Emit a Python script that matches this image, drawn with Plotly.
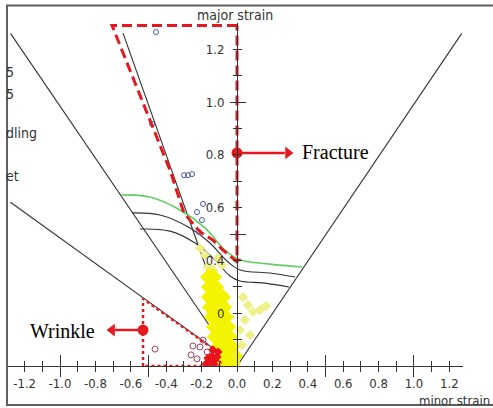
import plotly.graph_objects as go

# ---------------- tick labels ----------------
x_tick_vals = [-1.2, -1.1, -1.0, -0.9, -0.8, -0.7, -0.6, -0.5, -0.4, -0.3, -0.2, -0.1, 0.0,
               0.1, 0.2, 0.3, 0.4, 0.5, 0.6, 0.7, 0.8, 0.9, 1.0, 1.1, 1.2]
x_tick_text = ["-1.2", "", "-1.0", "", "-0.8", "", "-0.6", "", "-0.4", "", "-0.2", "", "0.0",
               "", "0.2", "", "0.4", "", "0.6", "", "0.8", "", "1.0", "", "1.2"]
y_tick_vals = [0.1, 0.2, 0.3, 0.4, 0.5, 0.6, 0.7, 0.8, 0.9, 1.0, 1.1, 1.2]
y_tick_text = ["", "0", "", "0.4", "", "0.6", "", "0.8", "", "1.0", "", "1.2"]
x_long_ticks = [-1.0, -0.5, 0.5, 1.0]
y_long_ticks = [0.5, 1.0]

# ---------------- strain path lines (minor, major) ----------------
shear_minor = [-1.28, -0.09]
shear_major = [1.26, 0.088]
compression_minor = [-1.28, -0.13]
compression_major = [0.62, 0.065]
uniaxial_minor = [-0.644, -0.12]
uniaxial_major = [1.261, 0.27]
biaxial_minor = [0.0, 1.27]
biaxial_major = [0.0, 1.26]

# ---------------- forming limit curves ----------------
flc_green_minor = [-0.650, -0.492, -0.322, -0.181, -0.068, 0.017, 0.186, 0.367]
flc_green_major = [0.648, 0.640, 0.591, 0.523, 0.439, 0.402, 0.386, 0.375]
flc_mid_minor = [-0.593, -0.435, -0.266, -0.153, -0.051, 0.017, 0.186, 0.328]
flc_mid_major = [0.580, 0.572, 0.523, 0.466, 0.394, 0.364, 0.352, 0.337]
flc_low_minor = [-0.548, -0.379, -0.237, -0.124, -0.040, 0.017, 0.158, 0.294]
flc_low_major = [0.519, 0.511, 0.466, 0.402, 0.341, 0.322, 0.314, 0.299]

# ---------------- measured strains ----------------
yellow_minor = [-0.158, -0.136,
                -0.153, -0.124,
                -0.153, -0.119, -0.085,
                -0.147, -0.113, -0.079,
                -0.136, -0.102, -0.068,
                -0.124, -0.090, -0.056,
                -0.119, -0.085, -0.045,
                -0.102, -0.068, -0.034,
                -0.085, -0.051, -0.017,
                -0.068, -0.028]
yellow_major = [0.337, 0.337,
                0.299, 0.299,
                0.261, 0.261, 0.261,
                0.223, 0.223, 0.223,
                0.186, 0.186, 0.186,
                0.148, 0.148, 0.148,
                0.110, 0.110, 0.110,
                0.072, 0.072, 0.072,
                0.038, 0.038, 0.038,
                0.011, 0.011]
pale_minor = [0.034, 0.062, 0.090, 0.130, 0.164, 0.045, 0.073, 0.028, 0.017,
              -0.181, -0.209, -0.107, -0.085, -0.164, -0.136]
pale_major = [0.261, 0.231, 0.205, 0.212, 0.227, 0.174, 0.117, 0.080, 0.136,
              0.420, 0.447, 0.409, 0.383, 0.375, 0.365]
blue_minor = [-0.458, -0.480, -0.299, -0.277, -0.254, -0.192, -0.226, -0.198, -0.215]
blue_major = [1.265, 0.917, 0.723, 0.723, 0.727, 0.614, 0.583, 0.553, 0.508]
wrinkle_open_minor = [-0.463, -0.249, -0.209, -0.260, -0.226, -0.169, -0.192]
wrinkle_open_major = [0.064, 0.076, 0.072, 0.042, 0.027, 0.053, 0.098]
wrinkle_red_minor = [-0.164, -0.141, -0.124, -0.153, -0.130, -0.113, -0.175, -0.107, -0.136]
wrinkle_red_major = [0.030, 0.038, 0.023, 0.015, 0.008, 0.034, 0.008, 0.053, 0.061]

# ---------------- marked zones ----------------
fracture_zone_minor = [0.0, -0.706, -0.379, -0.300, -0.209, -0.136, -0.079, 0.0, 0.0]
fracture_zone_major = [1.29, 1.29, 0.742, 0.580, 0.508, 0.477, 0.439, 0.394, 1.29]
wrinkle_zone_minor = [-0.531, -0.531, -0.11, -0.09, -0.531]
wrinkle_zone_major = [0.0, 0.255, 0.053, 0.0, 0.0]
fracture_arrow_minor = [0.0, 0.27]
fracture_arrow_major = [0.807, 0.807]
fracture_tip = [0.288]
wrinkle_arrow_minor = [-0.531, -0.69]
wrinkle_arrow_major = [0.136, 0.136]
wrinkle_tip = [-0.706]

W, H = 493, 408
X_RANGE = [-1.294, 1.277]
X_DOMAIN = [8 / W, 463 / W]
Y_RANGE = [0.0, 1.30]
Y_DOMAIN = [42 / H, (H - (366 - 1.30 * 264)) / H]
Y_AXIS_POS = 237 / W

INK = "#333333"
RED = "#e3191f"
NARROW = "Liberation Sans Narrow, Arial Narrow, DejaVu Sans Condensed, sans-serif"
SERIF = "Liberation Serif, Times New Roman, serif"

fig = go.Figure()


def line(xs, ys, color=INK, width=1.1, dash=None, shape="linear"):
    fig.add_trace(go.Scatter(x=xs, y=ys, mode="lines",
                             line=dict(color=color, width=width, dash=dash, shape=shape),
                             hoverinfo="skip", showlegend=False))


line(shear_minor, shear_major)
line(compression_minor, compression_major)
line(uniaxial_minor, uniaxial_major)
line(biaxial_minor, biaxial_major)
line(flc_low_minor, flc_low_major, shape="spline")
line(flc_mid_minor, flc_mid_major, shape="spline")
line(flc_green_minor, flc_green_major, color="#62cf62", width=1.6, shape="spline")

fig.add_trace(go.Scatter(x=pale_minor, y=pale_major, mode="markers",
                         marker=dict(symbol="diamond", size=8, color="#eef18a",
                                     line=dict(width=0)),
                         hoverinfo="skip", showlegend=False))
fig.add_trace(go.Scatter(x=yellow_minor, y=yellow_major, mode="markers",
                         marker=dict(symbol="diamond", size=14, color="#f4f400",
                                     line=dict(width=0)),
                         hoverinfo="skip", showlegend=False))
fig.add_trace(go.Scatter(x=blue_minor, y=blue_major, mode="markers",
                         marker=dict(symbol="circle-open", size=5, color="#4656a6",
                                     line=dict(width=1)),
                         hoverinfo="skip", showlegend=False))

# fracture and wrinkle zones
line(fracture_zone_minor, fracture_zone_major, color=RED, width=3, dash="10px,5px")
line(wrinkle_zone_minor, wrinkle_zone_major, color=RED, width=2.5, dash="dot")
fig.add_trace(go.Scatter(x=[0.0], y=[0.40], mode="markers",
                         marker=dict(symbol="triangle-down", size=7, color=RED),
                         hoverinfo="skip", showlegend=False))

fig.add_trace(go.Scatter(x=wrinkle_open_minor, y=wrinkle_open_major, mode="markers",
                         marker=dict(symbol="circle-open", size=6, color="#a3405c",
                                     line=dict(width=1)),
                         hoverinfo="skip", showlegend=False))
fig.add_trace(go.Scatter(x=wrinkle_red_minor, y=wrinkle_red_major, mode="markers",
                         marker=dict(symbol="diamond", size=7, color="#e8141a",
                                     line=dict(width=0)),
                         hoverinfo="skip", showlegend=False))

# arrows
for xs, ys, tip, sym in [(fracture_arrow_minor, fracture_arrow_major, fracture_tip, "triangle-right"),
                         (wrinkle_arrow_minor, wrinkle_arrow_major, wrinkle_tip, "triangle-left")]:
    line(xs, ys, color=RED, width=2.5)
    fig.add_trace(go.Scatter(x=xs[:1], y=ys[:1], mode="markers",
                             marker=dict(symbol="circle", size=11, color=RED),
                             hoverinfo="skip", showlegend=False))
    fig.add_trace(go.Scatter(x=tip, y=ys[:1], mode="markers",
                             marker=dict(symbol=sym, size=11, color=RED),
                             hoverinfo="skip", showlegend=False))

# empty traces to bring up the overlay tick axes
for k in (2, 3):
    fig.add_trace(go.Scatter(x=[None], y=[None], xaxis=f"x{k}", yaxis=f"y{k}",
                             mode="markers", hoverinfo="skip", showlegend=False))

tick_font = dict(family=NARROW, size=13, color=INK)
base = dict(showgrid=False, zeroline=False, fixedrange=True)

fig.update_layout(
    width=W, height=H,
    margin=dict(l=0, r=0, t=0, b=0),
    paper_bgcolor="white", plot_bgcolor="white",
    showlegend=False,
    xaxis=dict(domain=X_DOMAIN, range=X_RANGE, anchor="y", showline=True,
               linecolor=INK, linewidth=1, tickmode="array", tickvals=x_tick_vals,
               ticktext=x_tick_text, ticks="outside", ticklen=5, tickwidth=1,
               tickcolor=INK, tickfont=tick_font, **base),
    xaxis2=dict(overlaying="x", range=X_RANGE, anchor="y2", showline=False,
                tickmode="array", tickvals=x_tick_vals, ticks="inside", ticklen=5,
                tickwidth=1, tickcolor=INK, showticklabels=False, **base),
    xaxis3=dict(overlaying="x", range=X_RANGE, anchor="free",
                position=(H - 377) / H, showline=False, tickmode="array",
                tickvals=x_long_ticks, ticks="inside", ticklen=22, tickwidth=1,
                tickcolor=INK, showticklabels=False, **base),
    yaxis=dict(domain=Y_DOMAIN, range=Y_RANGE, anchor="free", position=Y_AXIS_POS,
               showline=True, linecolor=INK, linewidth=1, tickmode="array",
               tickvals=y_tick_vals, ticktext=y_tick_text, ticks="outside",
               ticklen=4, tickwidth=1, tickcolor=INK, tickfont=tick_font,
               ticklabelstandoff=6, **base),
    yaxis2=dict(overlaying="y", range=Y_RANGE, anchor="free", position=Y_AXIS_POS,
                showline=False, tickmode="array", tickvals=y_tick_vals,
                ticks="inside", ticklen=4, tickwidth=1, tickcolor=INK,
                showticklabels=False, **base),
    yaxis3=dict(overlaying="y", range=Y_RANGE, anchor="free", position=229 / W,
                showline=False, tickmode="array", tickvals=y_long_ticks,
                ticks="inside", ticklen=16, tickwidth=1, tickcolor=INK,
                showticklabels=False, **base),
)

annotations = [
    dict(text="major strain", x=235 / W, y=(H - 15) / H, xanchor="center", yanchor="middle",
         font=dict(family=NARROW, size=14, color=INK)),
    dict(text="minor strain", x=492 / W, y=(H - 400) / H, xanchor="right", yanchor="middle",
         font=dict(family=NARROW, size=13, color=INK)),
    dict(text="5", x=4 / W, y=(H - 72) / H, xanchor="left", yanchor="middle",
         font=dict(family=NARROW, size=14, color=INK)),
    dict(text="5", x=4 / W, y=(H - 94) / H, xanchor="left", yanchor="middle",
         font=dict(family=NARROW, size=14, color=INK)),
    dict(text="dling", x=4 / W, y=(H - 133) / H, xanchor="left", yanchor="middle",
         font=dict(family=NARROW, size=14, color=INK)),
    dict(text="et", x=4 / W, y=(H - 176) / H, xanchor="left", yanchor="middle",
         font=dict(family=NARROW, size=14, color=INK)),
]
for a in annotations:
    a.update(xref="paper", yref="paper", showarrow=False)
fig.update_layout(annotations=annotations + [
    dict(text="Fracture", x=0.355, y=0.812, xref="x", yref="y", xanchor="left",
         yanchor="middle", showarrow=False, font=dict(family=SERIF, size=20, color="black")),
    dict(text="Wrinkle", x=-0.791, y=0.133, xref="x", yref="y", xanchor="right",
         yanchor="middle", showarrow=False, font=dict(family=SERIF, size=20, color="black")),
])

# outer frame
fig.add_shape(type="rect", xref="paper", yref="paper",
              x0=7 / W, x1=1.02, y0=(H - 405) / H, y1=(H - 5.5) / H,
              line=dict(color="#606060", width=2), fillcolor="rgba(0,0,0,0)", layer="above")

fig.write_html("out.html")
